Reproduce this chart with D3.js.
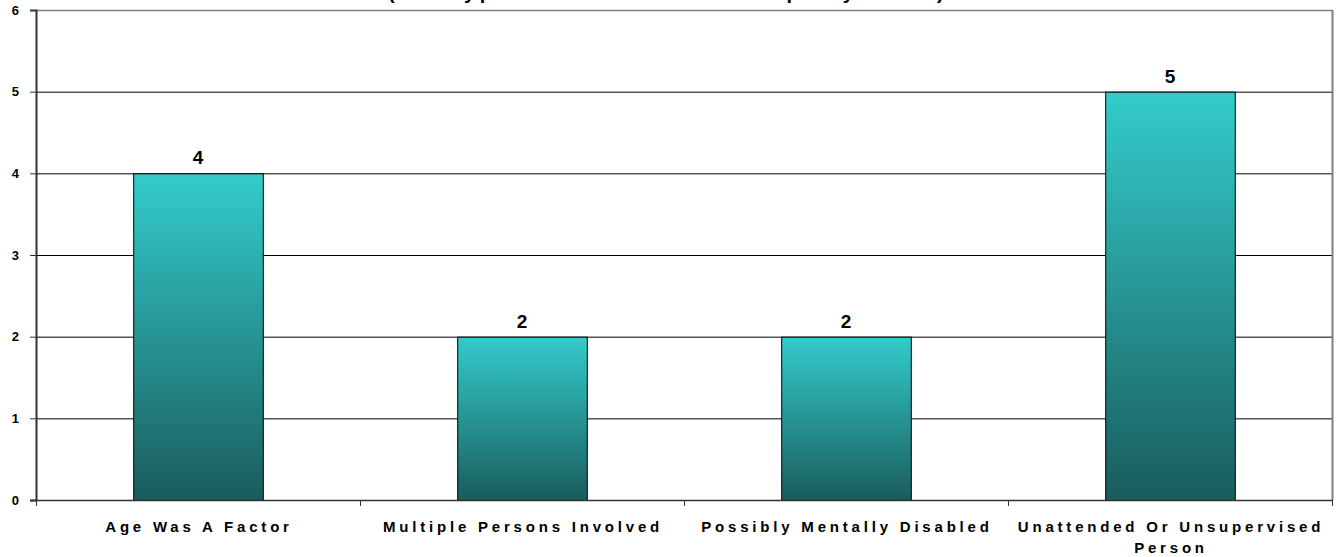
<!DOCTYPE html>
<html>
<head>
<meta charset="utf-8">
<script src="https://cdn.jsdelivr.net/npm/d3@7"></script>
<style>
  html, body { margin: 0; padding: 0; background: #ffffff; }
  svg { display: block; font-family: Arial, "Liberation Sans", sans-serif; }
</style>
</head>
<body>
<svg id="chart" width="1338" height="557"></svg>
<script>
// ---- data ----
const categories = [
  "Age Was A Factor",
  "Multiple Persons Involved",
  "Possibly Mentally Disabled",
  "Unattended Or Unsupervised Person"
];
const categoryLines = [
  ["Age Was A Factor"],
  ["Multiple Persons Involved"],
  ["Possibly Mentally Disabled"],
  ["Unattended Or Unsupervised", "Person"]
];
const values = [4, 2, 2, 5];
const yTicks = [0, 1, 2, 3, 4, 5, 6];
const titleText = "(All Types of Situational Property Code)";

// ---- layout ----
const W = 1338, H = 557;
const plot = { left: 36, right: 1332, top: 10, bottom: 500 };

const svg = d3.select("#chart");

const x = d3.scaleBand()
  .domain(categories)
  .range([plot.left, plot.right])
  .paddingInner(0.6)
  .paddingOuter(0.3);

const y = d3.scaleLinear()
  .domain([0, 6])
  .range([plot.bottom, plot.top]);

// gradient
const defs = svg.append("defs");
const grad = defs.append("linearGradient")
  .attr("id", "barGrad")
  .attr("x1", 0).attr("y1", 0).attr("x2", 0).attr("y2", 1);
grad.append("stop").attr("offset", "0%").attr("stop-color", "#33CCCC");
grad.append("stop").attr("offset", "100%").attr("stop-color", "#1A5C5C");

// title (clipped at top, as in the reference)
svg.append("text")
  .attr("x", 388)
  .attr("y", -1)
  .attr("text-anchor", "start")
  .style("font-size", "20px")
  .style("font-weight", "bold")
  .style("letter-spacing", "4.6px")
  .attr("fill", "#000")
  .text(titleText);

// gridlines
svg.append("g")
  .selectAll("line")
  .data(yTicks.filter(t => t > 0 && t < 6))
  .join("line")
  .attr("x1", plot.left).attr("x2", plot.right)
  .attr("y1", d => y(d) + 0.5).attr("y2", d => y(d) + 0.5)
  .attr("stroke", "#000").attr("stroke-width", 1);

// top & right border (gray)
svg.append("line")
  .attr("x1", plot.left).attr("x2", plot.right + 1)
  .attr("y1", y(6) + 0.5).attr("y2", y(6) + 0.5)
  .attr("stroke", "#808080").attr("stroke-width", 1.5);
svg.append("line")
  .attr("x1", plot.right + 0.5).attr("x2", plot.right + 0.5)
  .attr("y1", y(6)).attr("y2", y(0))
  .attr("stroke", "#808080").attr("stroke-width", 2);

// bars
svg.append("g")
  .selectAll("rect")
  .data(values)
  .join("rect")
  .attr("x", (d, i) => x(categories[i]) + 0.5)
  .attr("y", d => y(d) + 0.5)
  .attr("width", x.bandwidth())
  .attr("height", d => y(0) - y(d))
  .attr("fill", "url(#barGrad)")
  .attr("stroke", "#000")
  .attr("stroke-width", 1);

// value labels
svg.append("g")
  .selectAll("text")
  .data(values)
  .join("text")
  .attr("x", (d, i) => x(categories[i]) + x.bandwidth() / 2)
  .attr("y", d => y(d) - 9)
  .attr("text-anchor", "middle")
  .style("font-size", "19px")
  .style("font-weight", "bold")
  .attr("fill", "#000")
  .text(d => d);

// y axis
const yAxis = d3.axisLeft(y)
  .tickValues(yTicks)
  .tickFormat(d3.format("d"))
  .tickSize(6)
  .tickPadding(11);
const gy = svg.append("g")
  .attr("transform", `translate(${plot.left},0)`)
  .call(yAxis);
gy.select(".domain").attr("stroke", "#333").attr("stroke-width", 2);
gy.selectAll(".tick line").attr("stroke", "#333");
gy.selectAll(".tick text")
  .style("font-size", "13px")
  .style("font-weight", "bold")
  .style("font-family", "Arial, 'Liberation Sans', sans-serif")
  .attr("fill", "#000");

// x axis baseline
svg.append("line")
  .attr("x1", plot.left - 6).attr("x2", plot.right + 1)
  .attr("y1", y(0) + 0.5).attr("y2", y(0) + 0.5)
  .attr("stroke", "#333").attr("stroke-width", 1.5);

// category boundary ticks
const step = x.step();
const bounds = categories.map(c => x(c) + x.bandwidth() / 2 - step / 2)
  .concat([x(categories[categories.length - 1]) + x.bandwidth() / 2 + step / 2]);
svg.append("g")
  .selectAll("line")
  .data(bounds)
  .join("line")
  .attr("x1", d => Math.round(d) + 0.5).attr("x2", d => Math.round(d) + 0.5)
  .attr("y1", y(0)).attr("y2", y(0) + 6)
  .attr("stroke", "#333").attr("stroke-width", 1);

// category labels
const lab = svg.append("g")
  .selectAll("text")
  .data(categoryLines)
  .join("text")
  .attr("x", (d, i) => x(categories[i]) + x.bandwidth() / 2 + 1)
  .attr("y", 532)
  .attr("text-anchor", "middle")
  .style("font-size", "15px")
  .style("font-weight", "bold")
  .style("letter-spacing", "3.8px")
  .attr("fill", "#000");
lab.selectAll("tspan")
  .data(d => d)
  .join("tspan")
  .attr("x", function() { return d3.select(this.parentNode).attr("x"); })
  .attr("dy", (d, j) => j === 0 ? 0 : 21)
  .text(d => d);
</script>
</body>
</html>
